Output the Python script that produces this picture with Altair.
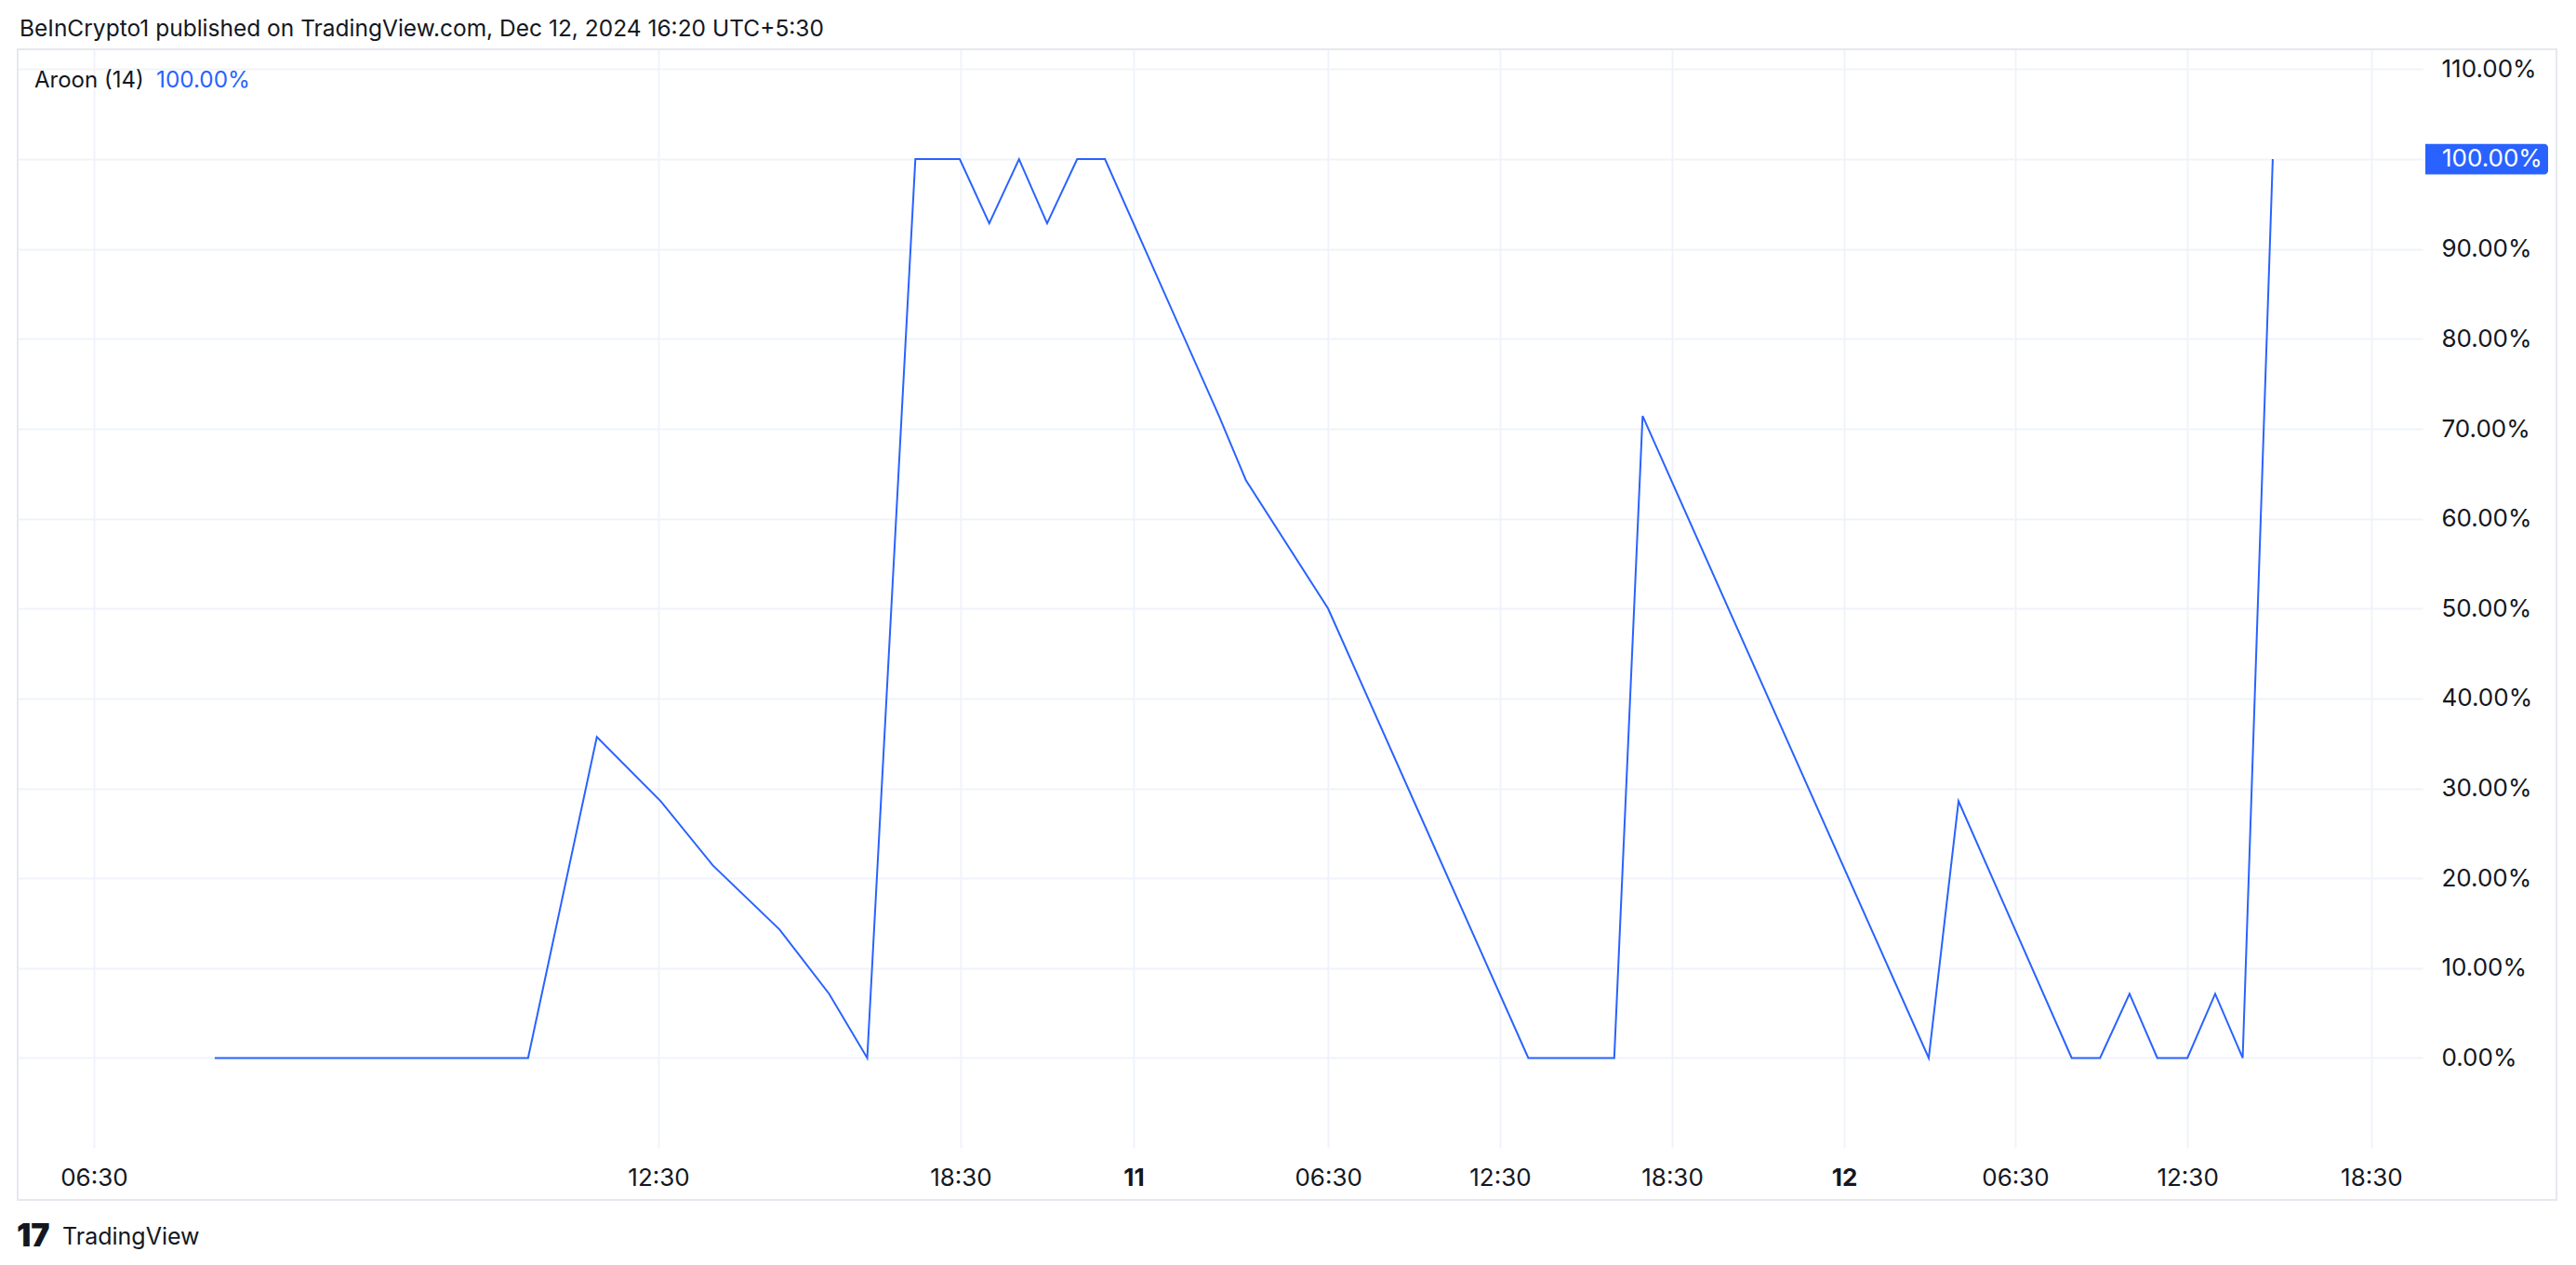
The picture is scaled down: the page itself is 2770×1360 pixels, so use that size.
import altair as alt
import pandas as pd

# ---- data (x in hourly-bar units, 0 = start of Dec 11) ----
bar = [-32.08, -21.14, -18.74, -16.51, -14.69, -12.36, -10.63, -9.30,
       -7.62, -6.07, -5.04, -4.00, -3.02, -1.97, -1.00,
       2.98, 3.92, 6.79, 13.78,
       16.78, 17.77, 27.76, 28.80, 32.75,
       33.74, 34.77, 35.74, 36.79, 37.76, 38.72, 39.77]
aroon_up = [0, 0, 35.71, 28.57, 21.43, 14.29, 7.14, 0,
            100, 100, 92.86, 100, 92.86, 100, 100,
            71.43, 64.29, 50, 0,
            0, 71.43, 0, 28.57, 0,
            0, 7.14, 0, 0, 7.14, 0, 100]

tick_pos = [-36.30, -16.59, -6.04, 0.0, 6.79, 12.79, 18.80, 24.81, 30.78, 36.79, 43.21]
tick_labels = ["06:30", "12:30", "18:30", "11", "06:30", "12:30", "18:30", "12", "06:30", "12:30", "18:30"]
bold_labels = ["11", "12"]

y_ticks = [0, 10, 20, 30, 40, 50, 60, 70, 80, 90, 100, 110]
last_value = 100.0

header = "BeInCrypto1 published on TradingView.com, Dec 12, 2024 16:20 UTC+5:30"
legend_name = "Aroon (14)"

FONT = "Inter"
TXT = "#131722"
BLUE = "#2962FF"
GRID = "#f0f3fa"

W, H = 2586, 1181

df = pd.DataFrame({"bar": bar, "aroon": aroon_up, "order": list(range(len(bar)))})

# label expression for the time axis
lab_expr = "''"
for p, l in reversed(list(zip(tick_pos, tick_labels))):
    lab_expr = f"abs(datum.value - ({p})) < 0.01 ? '{l}' : " + lab_expr
bold_test = " || ".join(
    f"abs(datum.value - ({p})) < 0.01" for p, l in zip(tick_pos, tick_labels) if l in bold_labels
)

x_scale = alt.Scale(domain=[-38.96, 45.0], nice=False, zero=False)
y_scale = alt.Scale(domain=[-9.99, 112.22], nice=False, zero=False)

x_axis = alt.Axis(
    values=tick_pos, labelExpr=lab_expr, title=None, domain=False, ticks=False,
    grid=True, gridColor=GRID, gridWidth=2, labelFont=FONT, labelFontSize=26,
    labelColor=TXT, labelPadding=32, labelBaseline="middle", labelFlush=False,
    labelOverlap=False,
    labelFontWeight={"condition": {"test": bold_test, "value": "bold"}, "value": "normal"},
)
y_axis = alt.Axis(
    values=y_ticks, orient="right", title=None, domain=False, ticks=False,
    grid=True, gridColor=GRID, gridWidth=2, labelFont=FONT, labelFontSize=26,
    labelColor=TXT, labelPadding=20, labelAlign="left", labelOverlap=False,
    labelExpr="datum.value == 100 ? '' : format(datum.value, '.2f') + '%'",
)

line = alt.Chart(df).mark_line(color=BLUE, strokeWidth=2).encode(
    x=alt.X("bar:Q", scale=x_scale, axis=x_axis),
    y=alt.Y("aroon:Q", scale=y_scale, axis=y_axis),
    order="order:Q",
)

one = pd.DataFrame({"v": [last_value], "t": [format(last_value, ".2f") + "%"]})

frame = alt.Chart(one).mark_rect(filled=False, stroke="#e6e8ed", strokeWidth=2).encode(
    x=alt.value(0), x2=alt.value(2730), y=alt.value(0), y2=alt.value(1237)
)

badge = alt.Chart(one).mark_rect(color=BLUE, cornerRadiusTopRight=4, cornerRadiusBottomRight=4).encode(
    x=alt.value(2589), x2=alt.value(2721),
    y=alt.Y("v_hi:Q", scale=y_scale), y2="v_lo:Q",
).transform_calculate(v_hi="datum.v + 1.7", v_lo="datum.v - 1.7")

badge_text = alt.Chart(one).mark_text(
    align="left", baseline="middle", font=FONT, fontSize=26, color="white"
).encode(x=alt.value(2607), y=alt.Y("v:Q", scale=y_scale), text="t:N")


def label(text, x, y, size, color=TXT, weight="normal"):
    return alt.Chart(pd.DataFrame({"t": [text]})).mark_text(
        align="left", baseline="middle", font=FONT, fontSize=size, color=color, fontWeight=weight
    ).encode(x=alt.value(x), y=alt.value(y), text="t:N")


header_t = label(header, 2, -21, 24.5)
legend_t = label(legend_name, 18, 34, 24)
legend_v = alt.Chart(one).mark_text(
    align="left", baseline="middle", font=FONT, fontSize=24.3, color=BLUE
).encode(x=alt.value(149), y=alt.value(34), text="t:N")
logo_icon = label("17", -1, 1277, 34, weight=900)
logo_text = label("TradingView", 48, 1277, 25)

chart = alt.layer(
    frame, line, badge, badge_text, header_t, legend_t, legend_v, logo_icon, logo_text
).properties(
    width=W, height=H,
    autosize=alt.AutoSizeParams(type="none"),
    padding={"left": 11, "top": 45, "right": 157, "bottom": 118},
    background="white",
).configure_view(strokeWidth=0)

chart.save("out.html", embed_options={"renderer": "svg", "actions": False})
